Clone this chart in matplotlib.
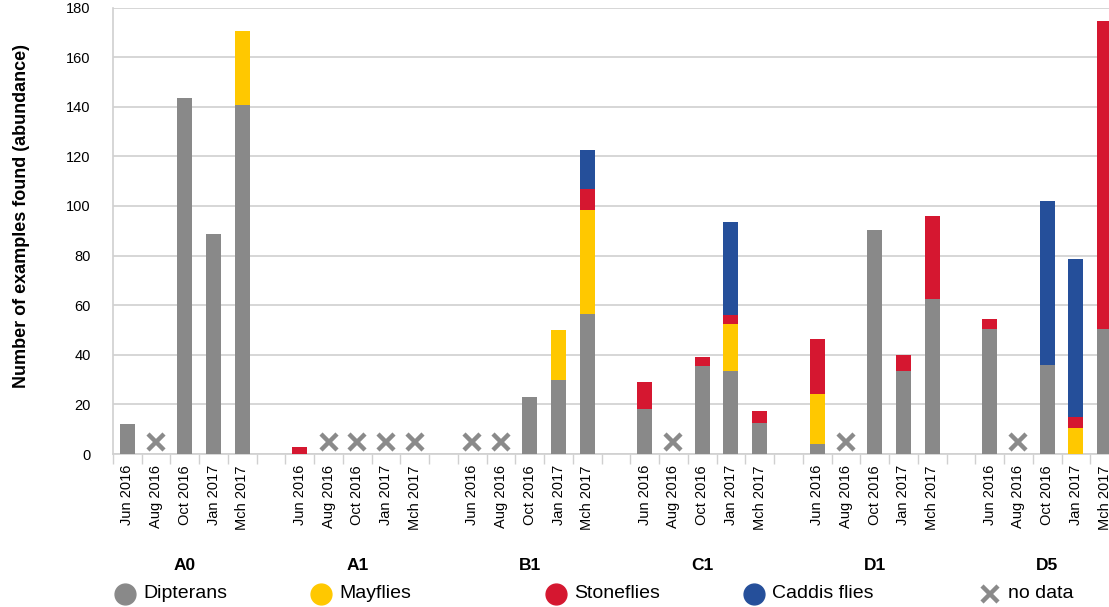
import numpy as np
import matplotlib
matplotlib.use("Agg")
import matplotlib.pyplot as plt

plt.rcParams['font.family'] = ['Liberation Sans', 'DejaVu Sans']

# sites and sampling dates
sites = ['A0', 'A1', 'B1', 'C1', 'D1', 'D5']
dates = ['Jun 2016', 'Aug 2016', 'Oct 2016', 'Jan 2017', 'Mch 2017']

# abundance per site (rows) and date (columns); nan = no data
dipterans = [
    [12, np.nan, 143.5, 88.5, 140.5],
    [0, np.nan, np.nan, np.nan, np.nan],
    [np.nan, np.nan, 23, 30, 56.5],
    [18, np.nan, 35.5, 33.5, 12.5],
    [4, np.nan, 90.5, 33.5, 62.5],
    [50.5, np.nan, 36, 0, 50.5],
]
mayflies = [
    [0, 0, 0, 0, 30],
    [0, 0, 0, 0, 0],
    [0, 0, 0, 20, 42],
    [0, 0, 0, 19, 0],
    [20, 0, 0, 0, 0],
    [0, 0, 0, 10.5, 0],
]
stoneflies = [
    [0, 0, 0, 0, 0],
    [3, 0, 0, 0, 0],
    [0, 0, 0, 0, 8.5],
    [11, 0, 3.5, 3.5, 5],
    [22.5, 0, 0, 6.5, 33.5],
    [4, 0, 0, 4.5, 124],
]
caddis = [
    [0, 0, 0, 0, 0],
    [0, 0, 0, 0, 0],
    [0, 0, 0, 0, 15.5],
    [0, 0, 0, 37.5, 0],
    [0, 0, 0, 0, 0],
    [0, 0, 66, 63.5, 0],
]

names = ['Dipterans', 'Mayflies', 'Stoneflies', 'Caddis flies']
colors = ['#898989', '#ffc800', '#d51730', '#254f9a']
grid_col = '#d0d0d0'

W, H = 1109, 607
fig = plt.figure(figsize=(W / 100, H / 100), dpi=100)

# plot area: 35 slots (5 dates + 1 gap per site), last gap cut off by the image edge
x0, x1, ytop, ybot = 113, 1119, 7.5, 454
ax = fig.add_axes([x0 / W, (H - ybot) / H, (x1 - x0) / W, (ybot - ytop) / H])

n_slot = len(dates) + 1
pos, labels = [], []
for g in range(len(sites)):
    for i in range(len(dates)):
        pos.append(g * n_slot + i)
        labels.append(dates[i])
pos = np.array(pos)

layers = [np.array(a, dtype=float).ravel() for a in (dipterans, mayflies, stoneflies, caddis)]
missing = np.isnan(layers[0])
layers[0] = np.nan_to_num(layers[0])

bottom = np.zeros(len(pos))
for vals, c in zip(layers, colors):
    ax.bar(pos, vals, bottom=bottom, width=0.52, color=c, zorder=3)
    bottom += vals

# no data markers
ax.plot(pos[missing], np.full(missing.sum(), 5), ls='none', marker='x',
        ms=11, mew=3.2, color='#8a8a8a', zorder=3)

ax.set_xlim(-0.5, len(sites) * n_slot - 1.5)
ax.set_ylim(0, 180)
ax.set_yticks(np.arange(0, 181, 20))
ax.yaxis.grid(True, color=grid_col, lw=1.2, zorder=0)
ax.tick_params(axis='y', length=0, pad=16, labelsize=10.5)

ax.set_xticks(pos)
ax.set_xticklabels(labels, rotation=90, fontsize=10.5)
ax.set_xticks(np.arange(-0.5, len(sites) * n_slot - 1, 1), minor=True)
ax.tick_params(axis='x', which='major', length=0, pad=8)
ax.tick_params(axis='x', which='minor', length=7, width=1, color=grid_col)

for s in ['top', 'right']:
    ax.spines[s].set_visible(False)
for s in ['left', 'bottom']:
    ax.spines[s].set_color(grid_col)
    ax.spines[s].set_linewidth(1.2)

# site names under each group
for g, s in enumerate(sites):
    ax.annotate(s, xy=(g * n_slot + 2, 0), xycoords=('data', 'axes fraction'),
                xytext=(0, -111), textcoords='offset pixels',
                ha='center', va='center', fontsize=12.5, fontweight='bold')

fig.text(22 / W, 1 - 216 / H, 'Number of examples found (abundance)',
         rotation=90, ha='center', va='center', fontsize=13, fontweight='bold')

# legend row
lg = fig.add_axes([0, 0, 1, 1], facecolor='none')
lg.set_xlim(0, W)
lg.set_ylim(H, 0)
lg.axis('off')
ly = 594
entries = [(125, 'o', colors[0], names[0]), (321, 'o', colors[1], names[1]),
           (556, 'o', colors[2], names[2]), (754, 'o', colors[3], names[3]),
           (990, 'x', '#8a8a8a', 'no data')]
for lx, mk, c, t in entries:
    if mk == 'o':
        lg.plot(lx, ly, marker='o', ms=15, color=c, ls='none')
    else:
        lg.plot(lx, ly, marker='x', ms=11, mew=3.2, color=c, ls='none')
    lg.text(lx + 18, ly, t, ha='left', va='center', fontsize=14)

fig.savefig('out.png', dpi=100)
